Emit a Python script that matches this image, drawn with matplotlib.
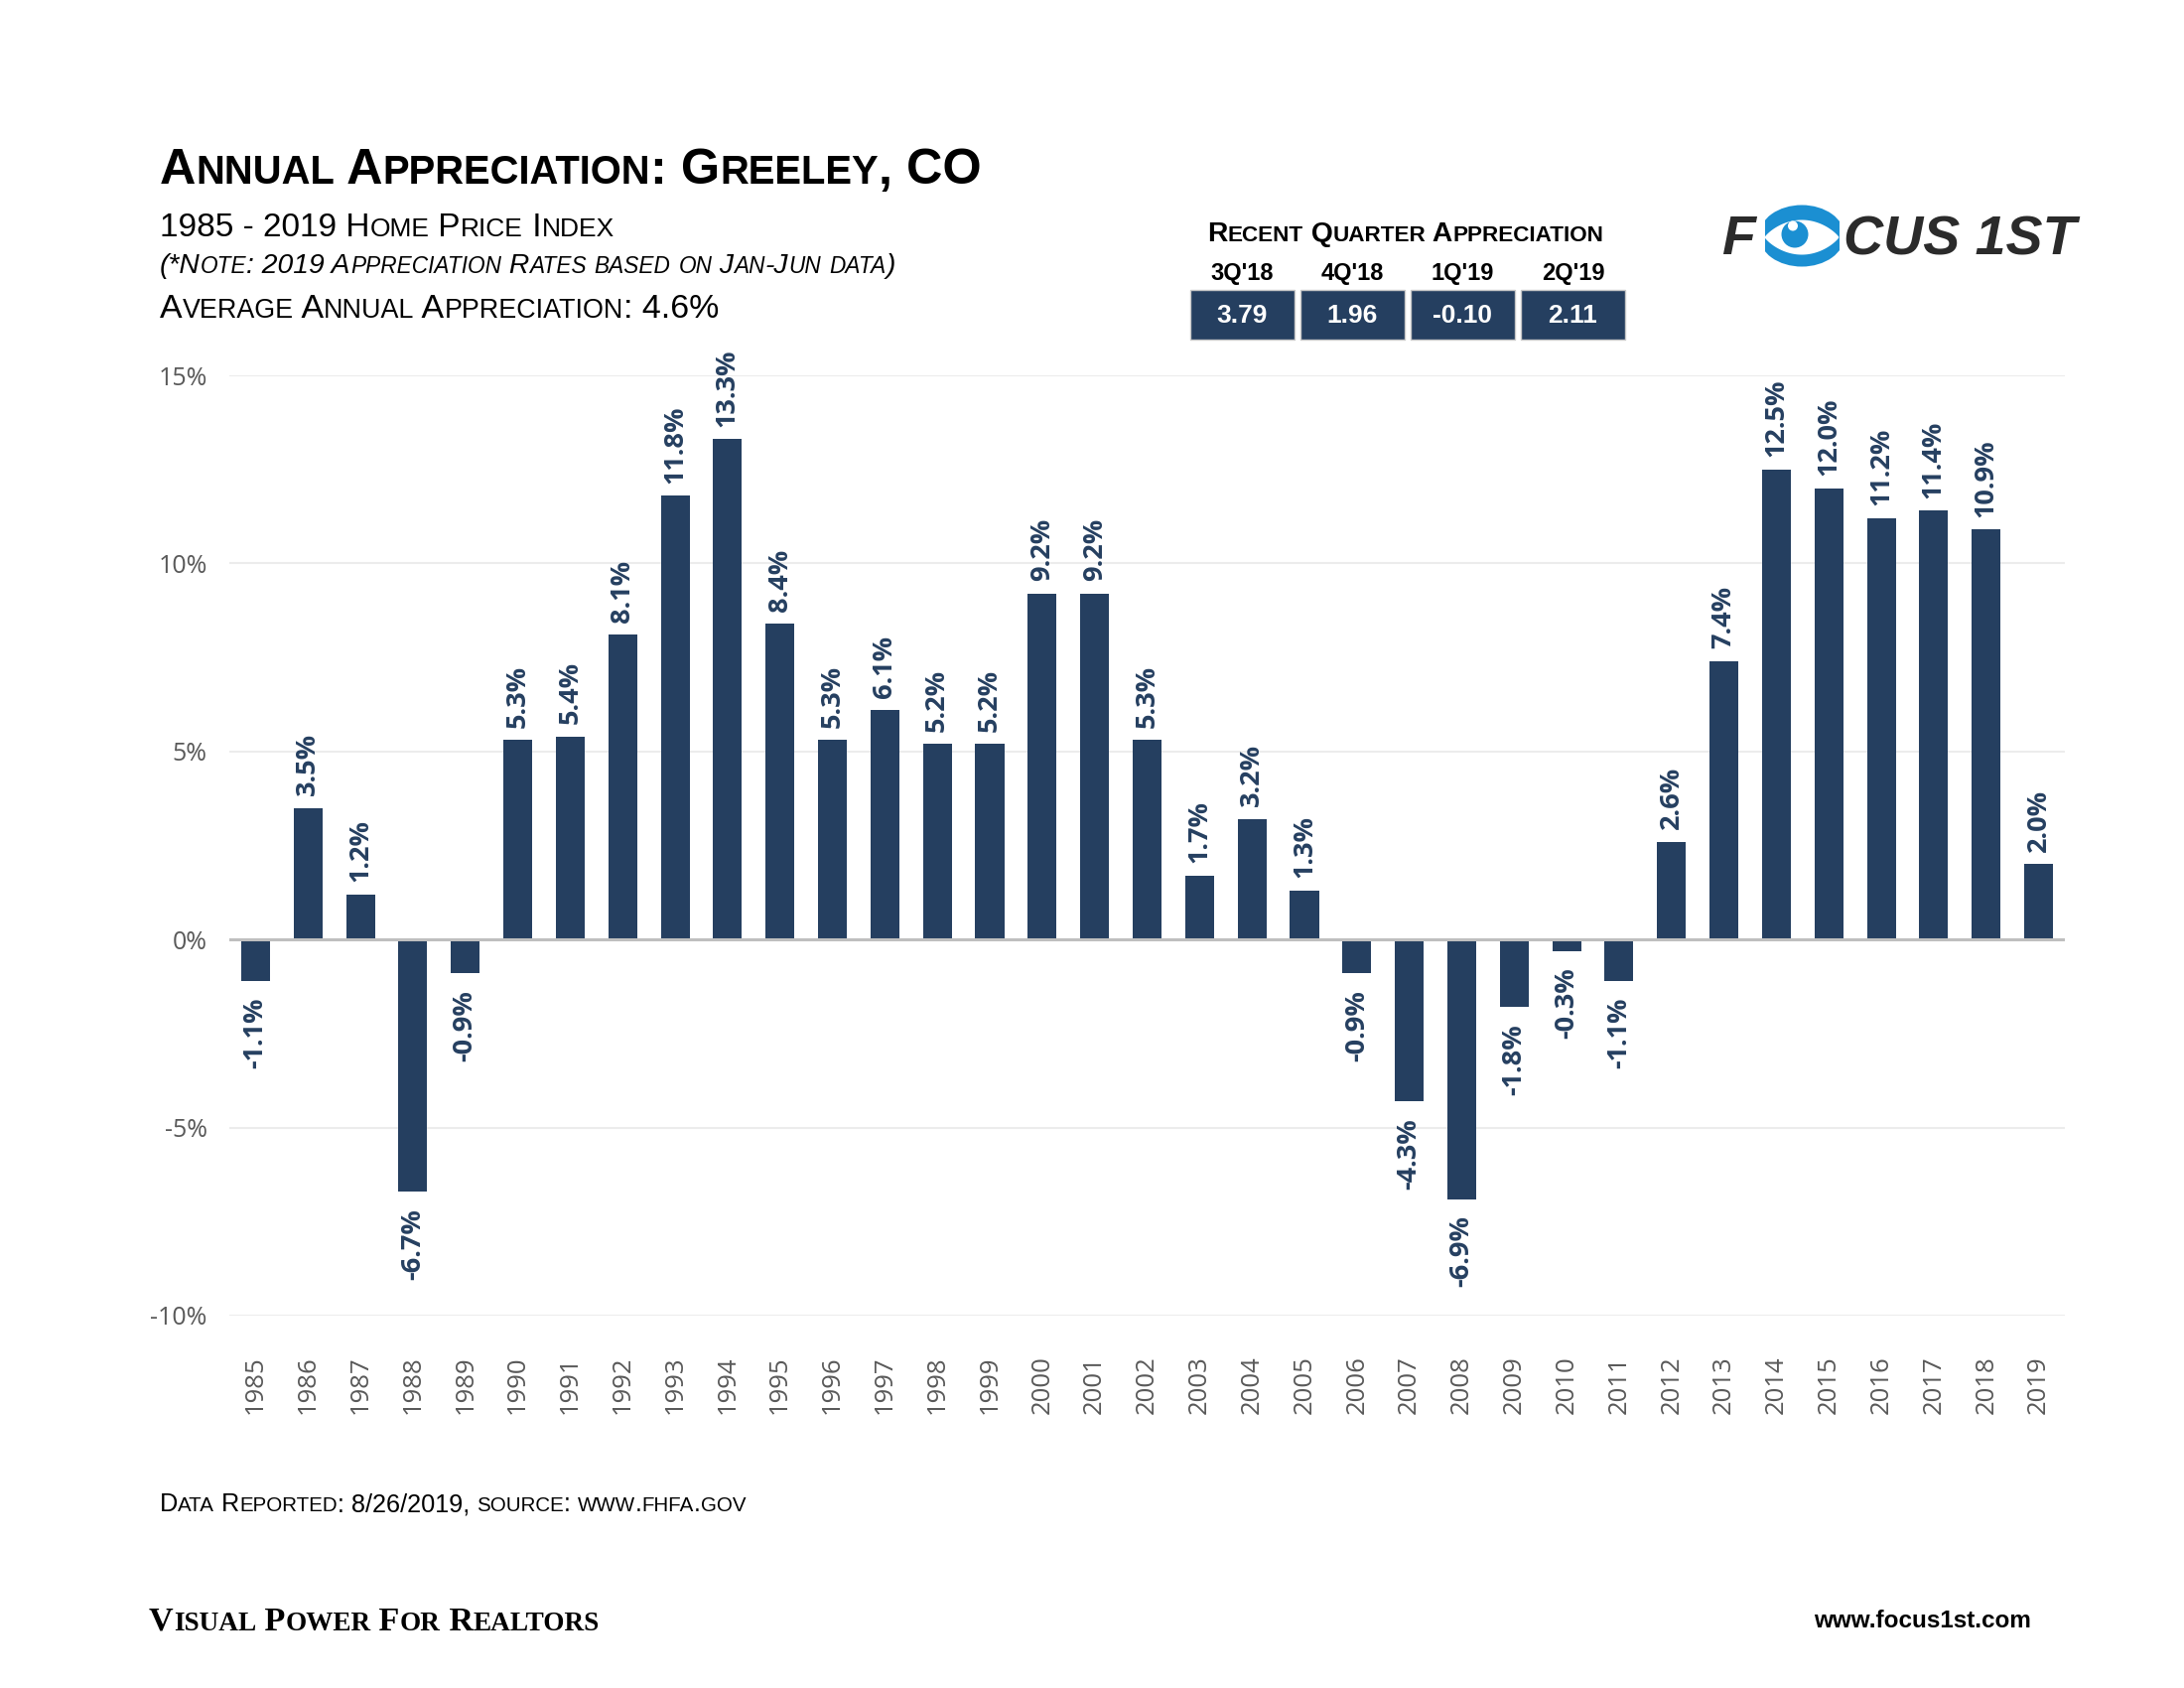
import matplotlib
matplotlib.use('Agg')
import matplotlib.pyplot as plt
from matplotlib import font_manager as fm
from matplotlib.patches import Rectangle, Circle, Ellipse, Polygon
import numpy as np

# ---------------- data ----------------
years = list(range(1985, 2020))
values = [-1.1, 3.5, 1.2, -6.7, -0.9, 5.3, 5.4, 8.1, 11.8, 13.3,
          8.4, 5.3, 6.1, 5.2, 5.2, 9.2, 9.2, 5.3, 1.7, 3.2,
          1.3, -0.9, -4.3, -6.9, -1.8, -0.3, -1.1, 2.6, 7.4, 12.5,
          12.0, 11.2, 11.4, 10.9, 2.0]
quarters = ["3Q'18", "4Q'18", "1Q'19", "2Q'19"]
quarter_values = ["3.79", "1.96", "-0.10", "2.11"]
yticks = [-10, -5, 0, 5, 10, 15]
ytick_labels = ["-10%", "-5%", "0%", "5%", "10%", "15%"]

# ---------------- setup ----------------
W, H = 2200, 1700
fig = plt.figure(figsize=(22, 17), dpi=100)
fig.patch.set_facecolor('white')
renderer = fig.canvas.get_renderer()

names = {f.name for f in fm.fontManager.ttflist}
NARROW = 'Liberation Sans Narrow' if 'Liberation Sans Narrow' in names else 'Liberation Sans'
BODY = 'Open Sans' if 'Open Sans' in names else 'DejaVu Sans'
BAR = '#253f60'
GRAYTXT = '#595959'

# overlay axes in pixel coordinates (y down)
ov = fig.add_axes([0, 0, 1, 1], zorder=10)
ov.set_xlim(0, W)
ov.set_ylim(H, 0)
ov.axis('off')


def twidth(s, **kw):
    t1 = ov.text(0, 0, s + '|', **kw)
    w1 = t1.get_window_extent(renderer).width
    t1.remove()
    t2 = ov.text(0, 0, '|', **kw)
    w2 = t2.get_window_extent(renderer).width
    t2.remove()
    return w1 - w2


def runs_of(s):
    runs = []
    for ch in s:
        sm = ch.islower()
        if runs and runs[-1][1] == sm:
            runs[-1][0] += ch
        else:
            runs.append([ch, sm])
    return runs


def smallcaps_width(s, big, small, **kw):
    return sum(twidth(r.upper(), fontsize=(small if sm else big), **kw) for r, sm in runs_of(s))


def smallcaps(x, y, s, big, small, ha='left', **kw):
    if ha == 'center':
        x = x - smallcaps_width(s, big, small, **kw) / 2
    cx = x
    for r, sm in runs_of(s):
        size = small if sm else big
        txt = r.upper()
        ov.text(cx, y, txt, fontsize=size, va='baseline', ha='left', **kw)
        cx += twidth(txt, fontsize=size, **kw)
    return cx


# ---------------- chart ----------------
ax = fig.add_axes([231 / W, 1 - 1325 / H, (2080 - 231) / W, (1325 - 378) / H])
x = np.arange(len(years))
ax.bar(x, values, width=0.55, color=BAR, zorder=3)
ax.axhline(0, color='#bfbfbf', lw=2.2, zorder=4)
ax.set_xlim(-0.5, len(years) - 0.5)
ax.set_ylim(-10, 15)
ax.set_yticks(yticks)
ax.set_yticklabels(ytick_labels, fontsize=18, color=GRAYTXT, family=BODY)
ax.set_xticks(x)
ax.set_xticklabels([str(y) for y in years], rotation=90, fontsize=18.5,
                   color=GRAYTXT, family=BODY)
ax.tick_params(axis='y', length=0, pad=16)
ax.tick_params(axis='x', length=0, pad=29)
ax.yaxis.grid(True, color='#ececec', lw=1.5)
ax.set_axisbelow(True)
for s in ax.spines.values():
    s.set_visible(False)

for i, v in enumerate(values):
    if v >= 0:
        ax.annotate(f'{v:.1f}%', (i, v), xytext=(0, 9), textcoords='offset points',
                    rotation=90, ha='center', va='bottom', fontsize=19.5,
                    fontweight='bold', color=BAR, family=BODY, annotation_clip=False)
    else:
        ax.annotate(f'{v:.1f}%', (i, v), xytext=(0, -12), textcoords='offset points',
                    rotation=90, ha='center', va='top', fontsize=19.5,
                    fontweight='bold', color=BAR, family=BODY, annotation_clip=False)

# ---------------- header text ----------------
smallcaps(161, 185, 'Annual Appreciation: Greeley, CO', 36.3, 28.8,
          family=NARROW, fontweight='bold', color='black')
smallcaps(161, 238, '1985 - 2019 Home Price Index', 24, 19,
          family=NARROW, color='black')
smallcaps(161, 275, '(*Note: 2019 Appreciation Rates based on Jan-Jun data)', 20.3, 16.3,
          family=NARROW, style='italic', color='black')
smallcaps(161, 320, 'Average Annual Appreciation: 4.6%', 24.4, 19.4,
          family=NARROW, color='black')

# ---------------- recent quarter box ----------------
smallcaps(1416, 243, 'Recent Quarter Appreciation', 20.3, 16.2, ha='center',
          family=NARROW, fontweight='bold', color='black')
box_x = [1199, 1310, 1421, 1532]
box_w = 105
for bx, q, qv in zip(box_x, quarters, quarter_values):
    ov.text(bx + box_w / 2, 282, q, fontsize=17, fontweight='bold', family=NARROW,
            ha='center', va='baseline', color='black')
    ov.add_patch(Rectangle((bx, 292), box_w, 50, facecolor=BAR, edgecolor='#c8c8c8', lw=1))
    ov.text(bx + box_w / 2, 318, qv, fontsize=19, fontweight='bold', family=NARROW,
            ha='center', va='center', color='white')

# ---------------- logo ----------------
LOGO_GRAY = '#2b2b2b'
BLUE = '#1b8fd2'
ov.text(1734, 256, 'F', fontsize=40, fontweight='bold', style='italic',
        family='Liberation Sans', color=LOGO_GRAY, va='baseline', ha='left')
cx, cy = 1815, 237.5
clip = Rectangle((cx - 37.5, cy - 40), 75, 80, facecolor='none', edgecolor='none')
ov.add_patch(clip)
disc = Ellipse((cx, cy), 86, 62, facecolor=BLUE, edgecolor='none')
ov.add_patch(disc)
disc.set_clip_path(clip)
a, b = 37.5, 17.5
ly = cy + 1.5
dx = np.linspace(-a, a, 80)
prof = b * (1 - (dx / a) ** 2) ** 0.85
pts = np.vstack([np.column_stack([cx + dx, ly - prof]),
                 np.column_stack([cx + dx[::-1], (ly + prof)[::-1]])])
ov.add_patch(Polygon(pts, closed=True, facecolor='white', edgecolor='none'))
ov.add_patch(Circle((cx - 7, cy - 1.5), 13.5, facecolor=BLUE, edgecolor='none'))
ov.add_patch(Circle((cx - 9, cy - 10), 5, facecolor='white', edgecolor='none'))
ov.text(1857, 256, 'CUS 1ST', fontsize=40, fontweight='bold', style='italic',
        family='Liberation Sans', color=LOGO_GRAY, va='baseline', ha='left')

# ---------------- footer ----------------
smallcaps(161, 1522, 'Data Reported: 8/26/2019, source: www.fhfa.gov', 18.2, 14.8,
          family=NARROW, color='black')
smallcaps(150, 1642, 'Visual Power For Realtors', 24.6, 19.6,
          family='Liberation Serif', fontweight='bold', color='black')
ov.text(2046, 1639, 'www.focus1st.com', fontsize=17.5, fontweight='bold',
        family=NARROW, color='black', ha='right', va='baseline')

fig.savefig('out.png', dpi=100, facecolor='white')
